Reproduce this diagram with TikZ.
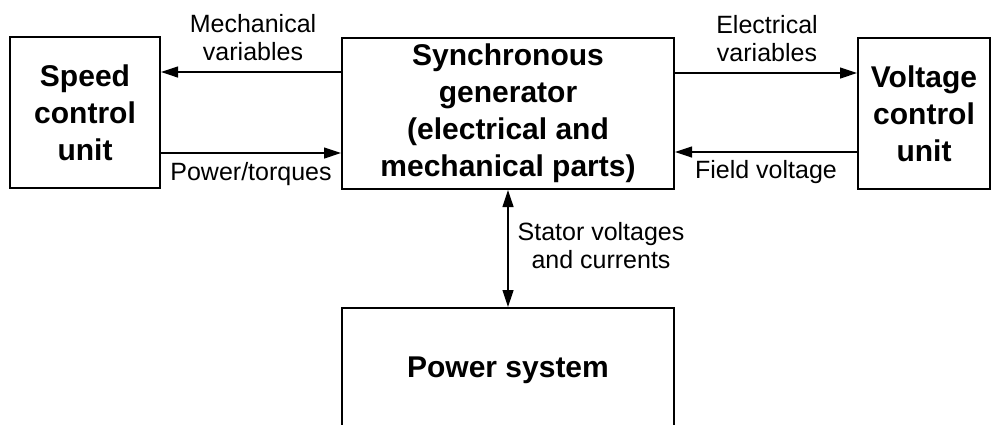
\documentclass[tikz,border=0pt]{standalone}
\usepackage{fontspec}
\setmainfont{Liberation Sans}
\usetikzlibrary{arrows.meta}
\begin{document}
\begin{tikzpicture}[x=0.5pt,y=-0.5pt,
 box/.style={draw,line width=1pt,inner sep=0pt,align=center,font=\fontsize{15}{18.5}\selectfont\bfseries},
 lbl/.style={align=center,inner sep=0pt,font=\fontsize{12.5}{14}\selectfont},
 arr/.style={line width=0.6pt,-{Triangle[length=8.5pt,width=5.5pt]}},
 darr/.style={line width=0.6pt,{Triangle[length=8.5pt,width=5.5pt]}-{Triangle[length=8.5pt,width=5.5pt]}}]
\clip (0,0) rectangle (1000,424);
\node[box,minimum width=75pt,minimum height=75.5pt] (speed) at (85,112.5) {Speed\\control\\unit};
\node[box,minimum width=166pt,minimum height=75.5pt] (sync) at (508,113.5) {Synchronous\\generator\\(electrical and\\mechanical parts)};
\node[box,minimum width=66pt,minimum height=75.5pt] (volt) at (924,113.5) {Voltage\\control\\unit};
\node[box,minimum width=166pt,minimum height=62pt] (power) at (508,370) {Power system};
\draw[arr] (sync.west |- 0,72) -- (speed.east |- 0,72);
\draw[arr] (speed.east |- 0,153) -- (sync.west |- 0,153);
\draw[arr] (sync.east |- 0,73) -- (volt.west |- 0,73);
\draw[arr] (volt.west |- 0,152) -- (sync.east |- 0,152);
\draw[darr] (sync.south) -- (power.north);
\node[lbl] (lmech) at (253,38) {Mechanical\\variables};
\node[lbl] (lpow) at (251,174) {Power/torques};
\node[lbl] (lelec) at (767,39) {Electrical\\variables};
\node[lbl] (lfield) at (766,172) {Field voltage};
\node[lbl] (lstat) at (601,246) {Stator voltages\\and currents};
\end{tikzpicture}
\end{document}
